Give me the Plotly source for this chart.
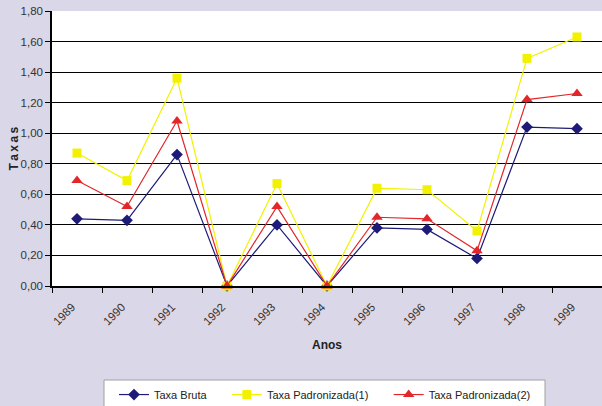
import plotly.graph_objects as go

anos = ["1989", "1990", "1991", "1992", "1993", "1994", "1995", "1996", "1997", "1998", "1999"]
taxa_bruta = [0.44, 0.43, 0.86, 0.00, 0.40, 0.00, 0.38, 0.37, 0.18, 1.04, 1.03]
taxa_padronizada_1 = [0.87, 0.69, 1.36, 0.00, 0.67, 0.00, 0.64, 0.63, 0.36, 1.49, 1.63]
taxa_padronizada_2 = [0.69, 0.52, 1.08, 0.00, 0.52, 0.00, 0.45, 0.44, 0.23, 1.22, 1.26]

# trailing no-break spaces widen the gap between legend entries
pad = "\u00a0" * 5
series = [
    ("Taxa Bruta" + pad, taxa_bruta, "#1E1B78", "diamond", 9),
    ("Taxa Padronizada(1)" + pad, taxa_padronizada_1, "#F2F200", "square", 9),
    ("Taxa Padronizada(2)", taxa_padronizada_2, "#E3262A", "triangle-up", 10),
]

fig = go.Figure()
for name, vals, color, symbol, size in series:
    fig.add_trace(go.Scatter(
        x=anos, y=vals, name=name, mode="lines+markers",
        line=dict(color=color, width=1.2),
        marker=dict(symbol=symbol, size=size, color=color, line=dict(width=0)),
        cliponaxis=False,
    ))

font = "Liberation Sans, Arial, sans-serif"
fig.update_layout(
    width=602, height=406,
    margin=dict(l=52, r=0, t=11, b=120, autoexpand=False),
    paper_bgcolor="#D9D7E8",
    plot_bgcolor="#FFFFFF",
    separators=",.",
    font=dict(family=font, size=11, color="#333333"),
    showlegend=True,
    legend=dict(
        orientation="h", x=(114 - 52) / 550, xanchor="left", y=-0.342, yanchor="top",
        bgcolor="rgba(0,0,0,0)", borderwidth=0,
        font=dict(family=font, size=11, color="#222222"),
        itemwidth=30,
    ),
    shapes=[
        # white frame behind the legend, running off the bottom edge
        dict(type="rect", xref="paper", yref="paper",
             x0=(104 - 52) / 550, x1=(545 - 52) / 550,
             y0=(286 - 412) / 275, y1=(286 - 380) / 275,
             fillcolor="#FFFFFF", line=dict(color="#A0A0A0", width=1),
             layer="above"),
    ],
    xaxis=dict(
        type="category", range=[-0.5, 10.5],
        tickson="boundaries", ticks="outside", ticklen=5, tickcolor="#000000",
        showline=True, linecolor="#000000", linewidth=1.5,
        showgrid=False, tickangle=-45,
        ticklabelstandoff=8, ticklabelshift=-5,
        tickfont=dict(family=font, size=11.5, color="#333333"),
    ),
    yaxis=dict(
        range=[0, 1.8], dtick=0.2, tickformat=".2f",
        ticks="outside", ticklen=5, tickcolor="#000000",
        showline=True, linecolor="#000000", linewidth=1.5,
        showgrid=True, gridcolor="#000000", gridwidth=1,
        zeroline=False,
        tickfont=dict(family=font, size=11.5, color="#333333"),
    ),
    annotations=[
        dict(text="<b>T\u2009a\u2009x\u2009a\u2009s</b>", xref="paper", yref="paper",
             x=-0.0691, y=0.5, xanchor="center", yanchor="middle",
             textangle=-90, showarrow=False,
             font=dict(family=font, size=12, color="#222222")),
        dict(text="<b>Anos</b>", xref="paper", yref="paper",
             x=0.5, y=-0.2145, xanchor="center", yanchor="middle",
             showarrow=False,
             font=dict(family=font, size=12, color="#222222")),
    ],
)

fig.write_html("out.html")
